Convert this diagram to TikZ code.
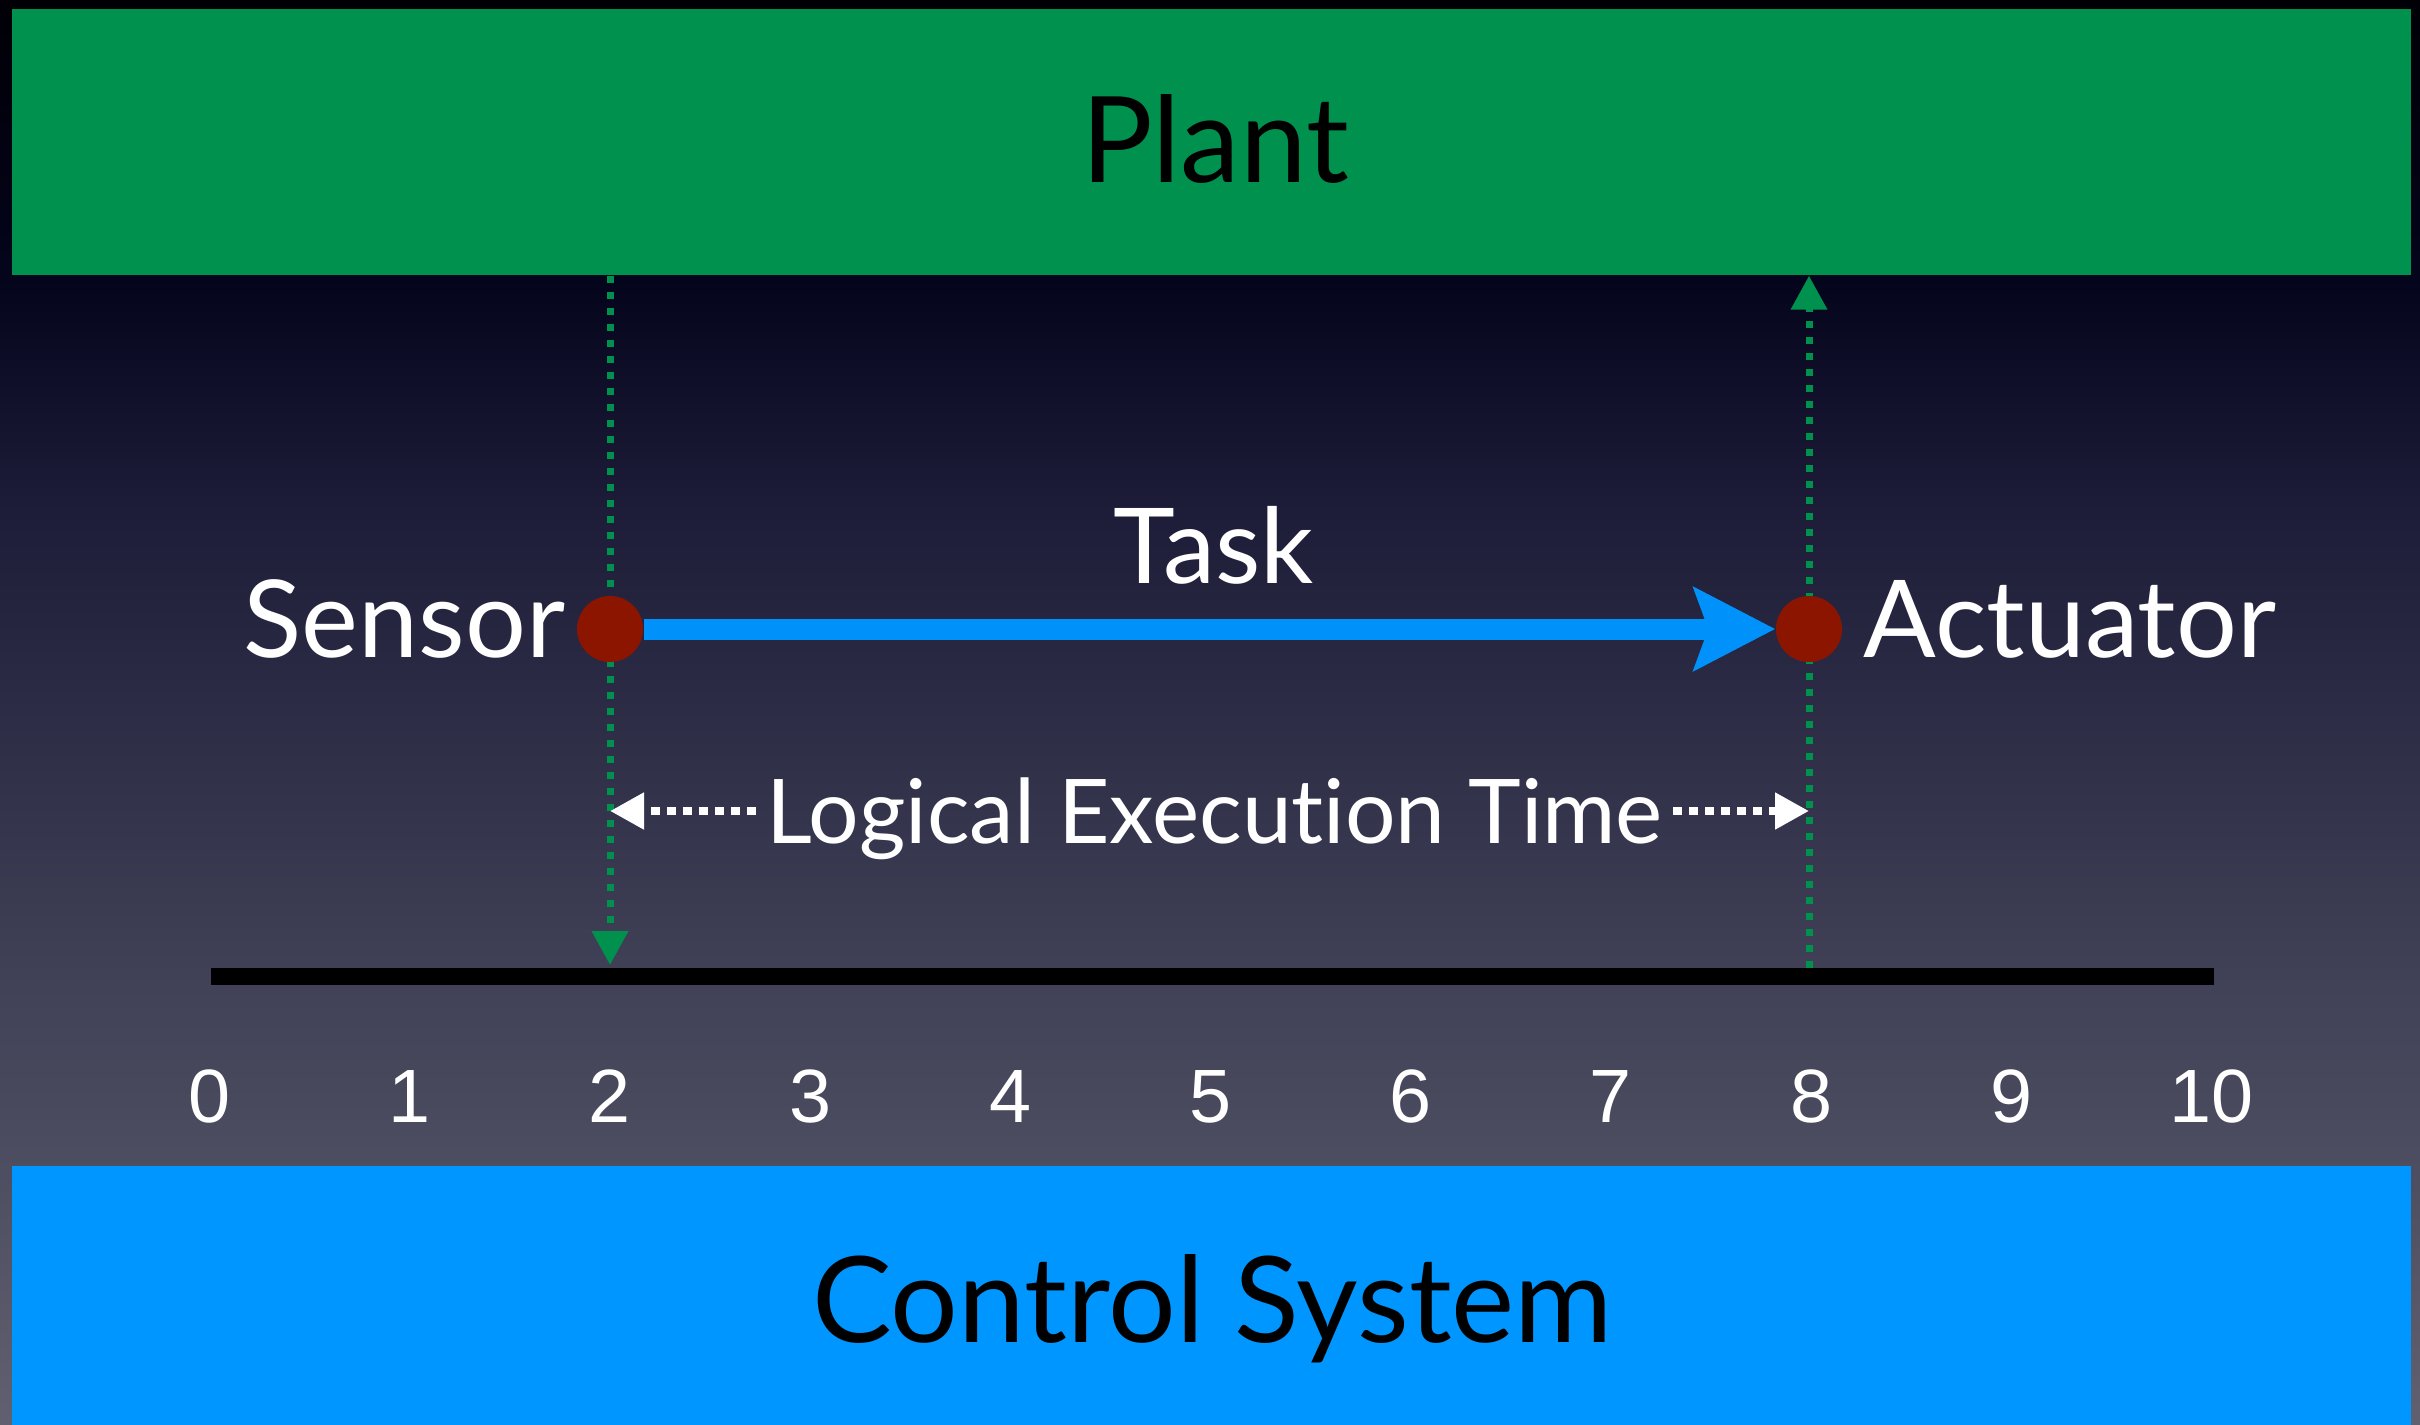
\documentclass[tikz,border=0pt]{standalone}
\usepackage{fontspec}
\setmainfont{Lato}[Ligatures=NoCommon]
\newfontfamily\numfont{Liberation Sans}
\usetikzlibrary{arrows.meta}
\definecolor{plantgreen}{RGB}{0,145,79}
\definecolor{ctrlblue}{RGB}{0,150,255}
\definecolor{taskblue}{RGB}{0,146,250}
\definecolor{dotred}{RGB}{140,21,0}
\definecolor{bgA}{RGB}{0,0,6}
\definecolor{bgB}{RGB}{4,4,28}
\definecolor{bgC}{RGB}{28,28,56}
\definecolor{bgD}{RGB}{66,66,88}
\definecolor{bgE}{RGB}{96,96,112}
\begin{document}
\begin{tikzpicture}[x=0.1mm,y=-0.1mm,
  bandbox/.style={rectangle,draw=none,inner sep=0pt,minimum width=239.9mm},
  boxlabel/.style={anchor=base,inner sep=0pt,text=black,font=\fontsize{34pt}{40pt}\selectfont},
  biglabel/.style={inner sep=0pt,text=white,font=\fontsize{30.6pt}{36pt}\selectfont},
  letlabel/.style={anchor=base,inner ysep=0pt,inner xsep=1mm,text=white,font=\fontsize{25.4pt}{30pt}\selectfont},
  numlbl/.style={anchor=base,inner sep=0pt,text=white,font=\numfont\fontsize{21.5pt}{25pt}\selectfont},
  reddot/.style={circle,fill=dotred,draw=none,inner sep=0pt,minimum size=6.6mm},
  greendots/.style={draw=plantgreen,line width=0.7mm,dash pattern=on 0.7mm off 0.9mm,
     -{Triangle[length=3.4mm,width=3.5mm]}},
  letarrow/.style={draw=white,line width=0.8mm,dash pattern=on 0.9mm off 0.7mm,
     -{Triangle[length=3.4mm,width=3.5mm]}},
  taskarrow/.style={draw=taskblue,line width=2.1mm,
     -{Stealth[length=8.1mm,width=8.2mm,inset=1.4mm]}},
  timeline/.style={draw=black,line width=1.7mm}
]
\useasboundingbox (0,0) rectangle (2420,1425);
% background gradient
\shade[top color=bgA,bottom color=bgB] (0,0) rectangle (2420,281);
\shade[top color=bgB,bottom color=bgC] (0,280) rectangle (2420,501);
\shade[top color=bgC,bottom color=bgD] (0,500) rectangle (2420,1001);
\shade[top color=bgD,bottom color=bgE] (0,1000) rectangle (2420,1425);

% bands
\node[bandbox,fill=plantgreen,minimum height=26.6mm] (plant) at (1211.5,142) {};
\node[boxlabel] (plantlbl) at (1215,183) {Plant};
\node[bandbox,fill=ctrlblue,minimum height=25.9mm] (ctrl) at (1211.5,1295.5) {};
\node[boxlabel] (ctrllbl) at (1212.5,1342) {Control System};

% timeline
\coordinate (tl0) at (211,976);
\coordinate (tl1) at (2214,976);
\draw[timeline] (tl0) -- (tl1);
\foreach \i in {0,...,10}
  \node[numlbl] (n\i) at ({209.5+200.2*\i},1122) {\i};

% positions of sensor / actuator
\coordinate (sx) at (610,629);
\coordinate (ax) at (1809,629);

% green dotted connectors
\draw[greendots] (plant.south -| sx) -- ([yshift=1.1mm]sx |- tl0);
\draw[greendots] ([yshift=0.85mm]ax |- tl0) -- (plant.south -| ax);

% dots and labels
\node[reddot] (sensor) at (sx) {};
\node[reddot] (actuator) at (ax) {};
\node[biglabel,anchor=base east] (sensorlbl) at (566,657) {Sensor};
\node[biglabel,anchor=base west] (actuatorlbl) at (1863,657) {Actuator};
\node[biglabel,anchor=base,font=\fontsize{29.8pt}{35pt}\selectfont] (tasklbl) at (1213.5,583) {Task};

% task arrow
\draw[taskarrow] (sensor) -- (actuator);

% logical execution time
\node[letlabel] (let) at (1214.5,843) {Logical Execution Time};
\draw[letarrow] (let.west |- 0,811) -- (sx |- 0,811);
\draw[letarrow] (let.east |- 0,811) -- (ax |- 0,811);
\end{tikzpicture}
\end{document}
